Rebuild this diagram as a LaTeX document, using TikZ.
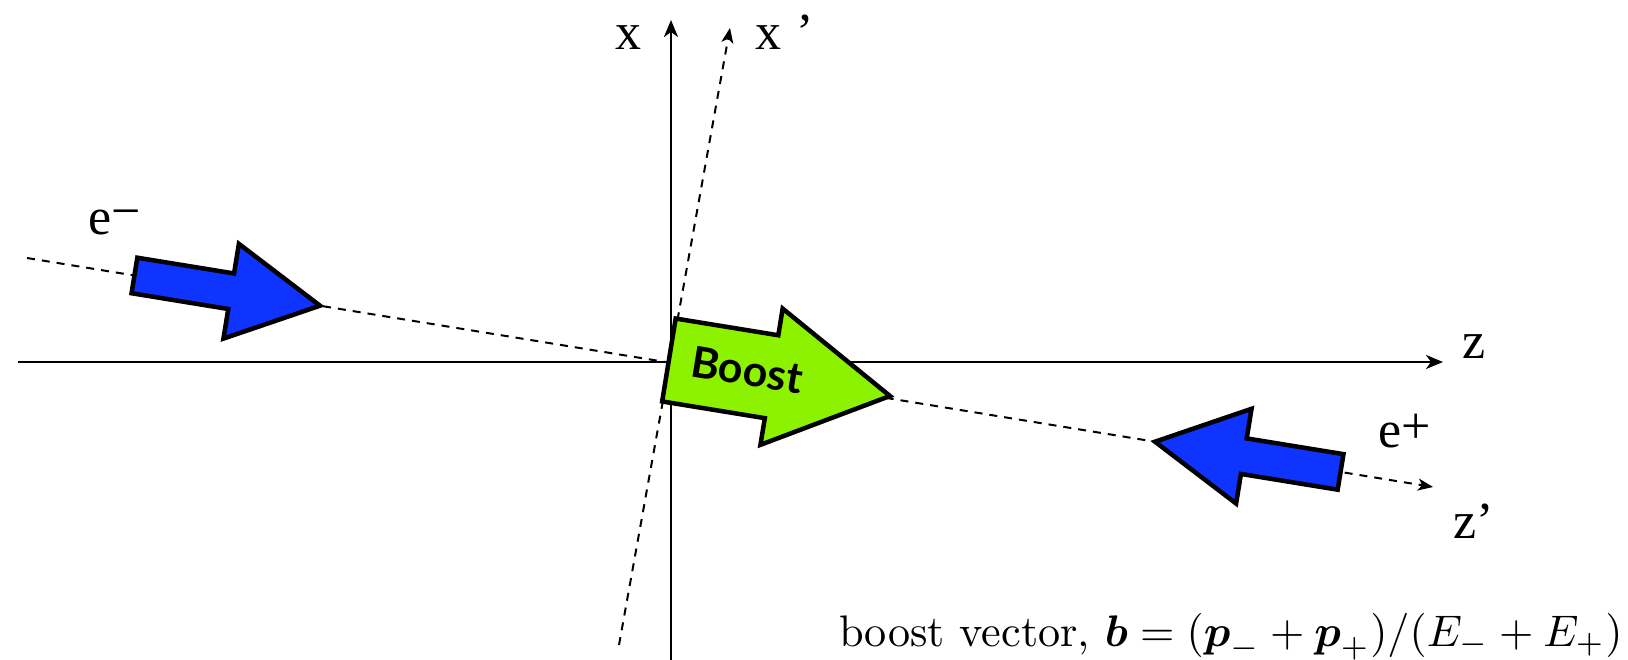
\documentclass[tikz,border=0pt]{standalone}
\usepackage{fontspec}
\newfontfamily\timesfont{Liberation Serif}
\newfontfamily\boostfont{Lato}
\usepackage{amsmath}
\usepackage{graphicx}
\usetikzlibrary{arrows.meta}
\definecolor{eblue}{RGB}{16,52,255}
\definecolor{bgreen}{RGB}{140,242,0}
\begin{document}
\begin{tikzpicture}[x=1pt,y=-1pt,
  axis/.style={line width=2.6pt,-{Stealth[length=17pt,width=14pt,inset=5pt]}},
  daxis/.style={line width=2pt,dash pattern=on 8pt off 7pt,-{Stealth[length=15pt,width=12pt,inset=4pt]}},
  lbl/.style={font=\timesfont\fontsize{52}{52}\selectfont,anchor=base west,inner sep=0pt},
  beam/.style={draw=black,line width=4.5pt,fill=eblue,line join=miter},
  boostarrow/.style={draw=black,line width=4.5pt,fill=bgreen,line join=miter},
  boosttxt/.style={font=\boostfont\bfseries\fontsize{43}{43}\selectfont,inner sep=0pt,rotate=-9.25}]
\useasboundingbox (0,0) rectangle (1628,660);
% axes
\coordinate (zL) at (18,362);
\coordinate (zR) at (1443,362);
\coordinate (xB) at (671,660);
\coordinate (xT) at (671,20);
\coordinate (zpL) at (27,258);
\coordinate (zpR) at (1433,487);
\coordinate (xpB) at (619,645);
\coordinate (xpT) at (730,28);
\draw[axis] (zL) -- (zR);
\draw[axis] (xB) -- (xT);
\draw[daxis] (zpL) -- (zpR);
\draw[daxis] (xpB) -- (xpT);
% arrow tips
\coordinate (emtip) at (320,305.7);
\coordinate (eptip) at (1155,441.7);
\coordinate (btip) at (890,396);
% e- beam arrow
\begin{scope}[shift={(emtip)},x={(0.987pt,-0.16075pt)},y={(-0.16075pt,-0.987pt)}]
  \draw[beam] (0,0) -- (-90,-48) -- (-90,-18) -- (-188,-18) -- (-188,18) -- (-90,18) -- (-90,48) -- cycle;
\end{scope}
% e+ beam arrow
\begin{scope}[shift={(eptip)},x={(-0.987pt,0.16075pt)},y={(-0.16075pt,-0.987pt)}]
  \draw[beam] (0,0) -- (-90,-48) -- (-90,-18) -- (-188,-18) -- (-188,18) -- (-90,18) -- (-90,48) -- cycle;
\end{scope}
% boost arrow
\begin{scope}[shift={(btip)},x={(0.987pt,-0.16075pt)},y={(-0.16075pt,-0.987pt)}]
  \draw[boostarrow] (0,0) -- (-120,-69) -- (-120,-42) -- (-224,-42) -- (-224,42) -- (-120,42) -- (-120,69) -- cycle;
\end{scope}
\node[boosttxt,text=black] (boost) at (747,370) {Boost};
% labels
\node[lbl] (xlab) at (615,50) {x};
\node[lbl] (xplab) at (755,50) {x\hspace{15pt}’};
\node[lbl] (zlab) at (1462,359) {z};
\node[lbl] (zplab) at (1453,538) {z’};
\node[lbl] (emlab) at (88,235) {e\raisebox{6pt}{−}};
\node[lbl] (eplab) at (1378,447) {e\raisebox{4pt}{+}};
\node[anchor=base west,inner sep=0pt] (formula) at (839,646) {\resizebox{783pt}{!}{boost vector, $\boldsymbol{b} = (\boldsymbol{p}_- + \boldsymbol{p}_+)/(E_- + E_+)$}};
\end{tikzpicture}
\end{document}
